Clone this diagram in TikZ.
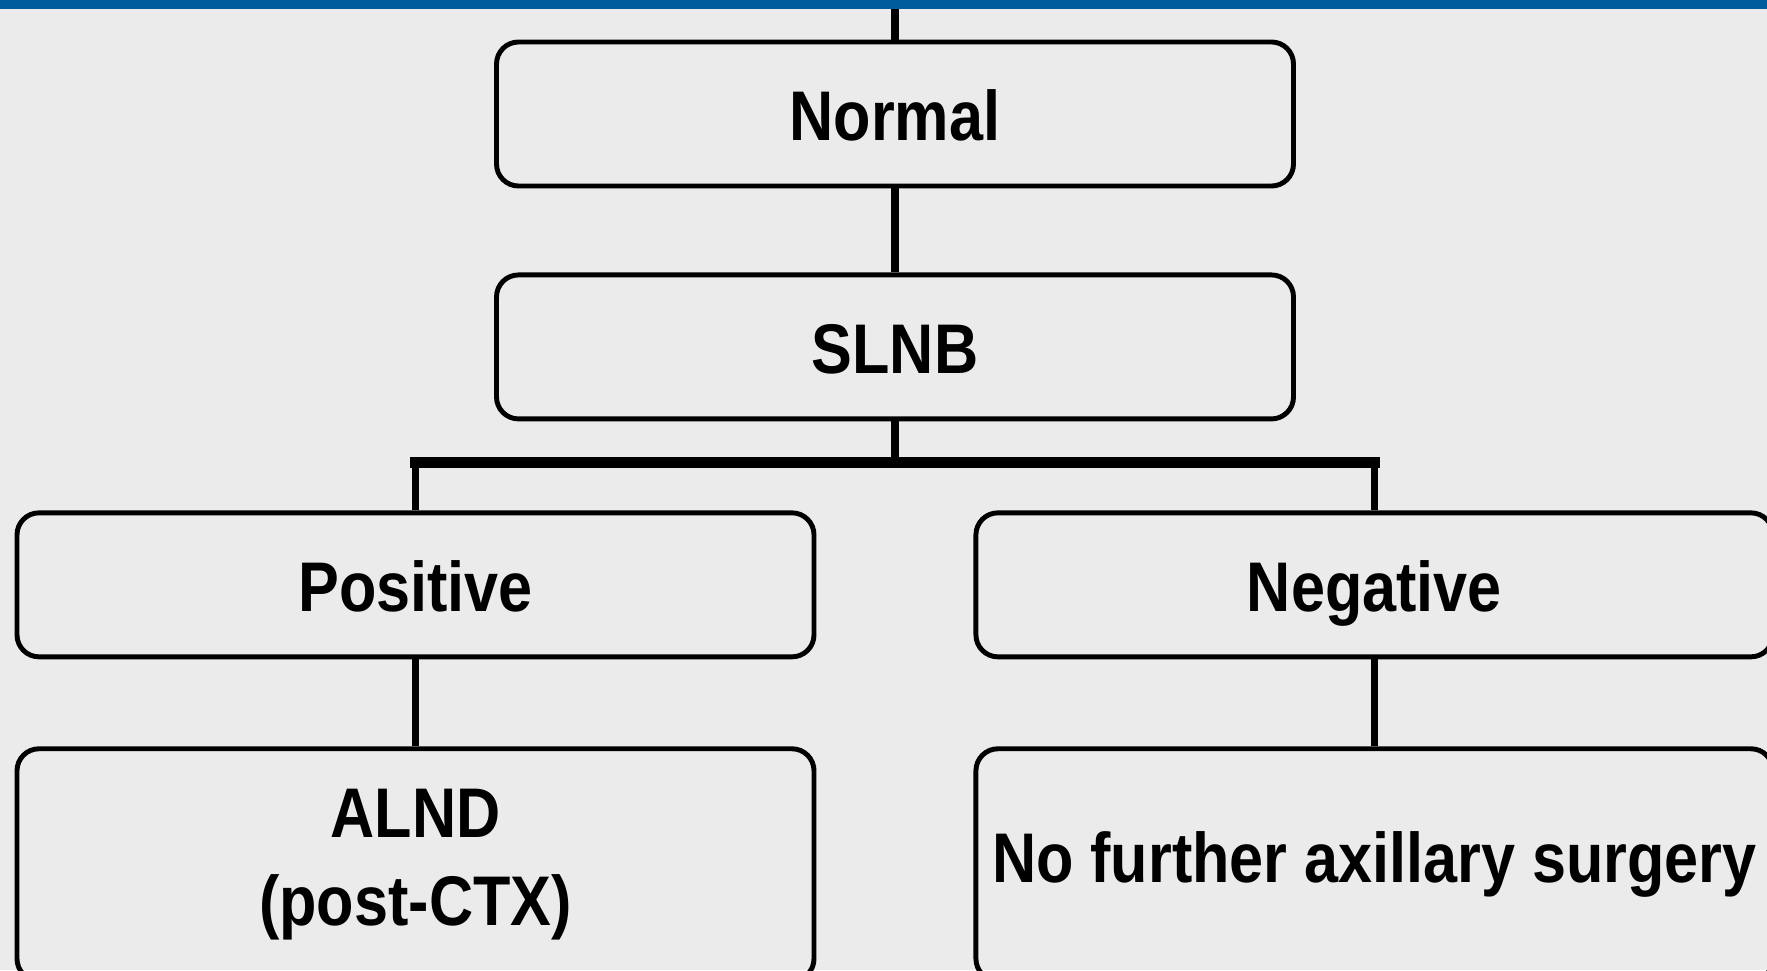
\documentclass[tikz,border=0pt]{standalone}
\usepackage{tikz}
\usetikzlibrary{positioning}
\usepackage{xcolor}
\usepackage{fontspec}
\newfontfamily\boxfont[FakeStretch=0.87]{Liberation Sans}
\definecolor{bggray}{RGB}{235,235,235}
\definecolor{barblue}{RGB}{0,92,154}

\begin{document}
\begin{tikzpicture}[
    box/.style={
        rectangle,
        draw,
        rounded corners=0.22cm,
        line width=1.4pt,
        minimum width=7.97cm,
        minimum height=1.44cm,
        inner sep=0pt,
        align=center,
        text height=19pt,
        text depth=4pt,
        font=\boxfont\bfseries\fontsize{20}{25}\selectfont
    },
    tallbox/.style={
        box,
        text height=,
        text depth=,
        minimum height=2.32cm
    },
    link/.style={
        line width=2pt
    },
    bus/.style={
        line width=3pt,
        line cap=rect
    }
]

\useasboundingbox (0,0) rectangle (17.67,-9.70);
\fill[bggray] (0,0) rectangle (17.67,-9.70);
\fill[barblue] (0,0) rectangle (17.67,-0.09);

\coordinate (bar) at (8.95,-0.09);

\node[box] (normal) at (8.95,-1.14)
{Normal};

\node[box, below=0.84cm of normal] (slnb)
{SLNB};

\node[box, below=0.89cm of slnb, xshift=-4.795cm] (positive)
{Positive};

\node[box, right=1.57cm of positive] (negative)
{Negative};

\node[tallbox, below=0.87cm of positive] (alnd)
{ALND\\(post-CTX)};

\node[tallbox, below=0.87cm of negative] (nofurther)
{No further axillary surgery};

\coordinate[below=0.41cm of slnb] (fork);

\draw[link] (bar) -- (normal);
\draw[link] (normal) -- (slnb);
\draw[link] (slnb) -- (fork);
\draw[bus] (fork -| positive) -- (fork -| negative);
\draw[link] (fork -| positive) -- (positive);
\draw[link] (fork -| negative) -- (negative);
\draw[link] (positive) -- (alnd);
\draw[link] (negative) -- (nofurther);

\end{tikzpicture}
\end{document}
